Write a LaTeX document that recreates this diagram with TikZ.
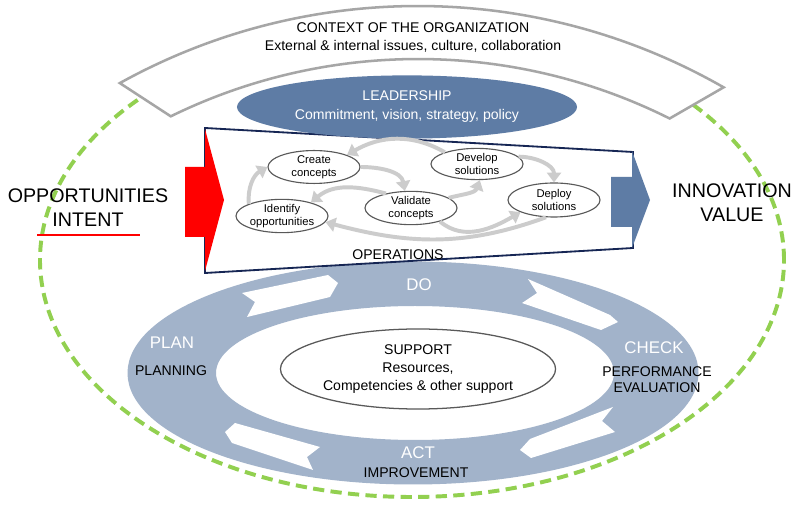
\documentclass[tikz,border=0pt]{standalone}
\usepackage{fontspec}
\setmainfont{Liberation Sans}
\usetikzlibrary{arrows.meta,positioning,calc,shapes.geometric}
\definecolor{ringblue}{RGB}{162,179,202}
\definecolor{leadblue}{RGB}{94,124,165}
\definecolor{navy}{RGB}{22,38,84}
\definecolor{dashgreen}{RGB}{146,208,80}
\definecolor{bandgray}{RGB}{166,166,166}
\definecolor{flowgray}{RGB}{204,204,204}
\definecolor{edgegray}{RGB}{89,89,89}

\begin{document}
\begin{tikzpicture}[x=0.025cm, y=0.025cm,
    every node/.style={align=center, font=\fontsize{10}{12.8}\selectfont},
    procnode/.style={ellipse, draw=edgegray, fill=white, line width=0.8pt, minimum width=2.3cm, minimum height=0.78cm, inner sep=0pt, font=\fontsize{8}{9.3}\selectfont},
    flow/.style={flowgray, line width=2.8pt, -{Triangle[length=7pt,width=10pt]}},
    pdcalabel/.style={text=white, font=\fontsize{12}{14}\selectfont},
    bigtext/.style={font=\fontsize{14}{17}\selectfont}]
      \useasboundingbox (0,0) rectangle (800,505);
      \fill[white] (0,0) rectangle (800,505);
      \draw[dashgreen, line width=2.8pt, dash pattern=on 8pt off 4.5pt] (412,245) ellipse[x radius=372, y radius=237];
      \coordinate (ctx) at (418,-116);
      \draw[bandgray, line width=1.8pt, fill=white] ($(ctx)+(119:615)$) arc[start angle=119, end angle=60.2, radius=615] -- ($(ctx)+(63.4:562)$) arc[start angle=63.4, end angle=116.1, radius=562] -- cycle;
      \node (context) at (413,468) {CONTEXT OF THE ORGANIZATION\\External \& internal issues, culture, collaboration};
      \fill[ringblue, even odd rule] (413,132) ellipse[x radius=285.5, y radius=111.5] (415,132) ellipse[x radius=199, y radius=67];
      \fill[white] (242,212) -- (328,230) -- (338,222) -- (330,208) -- (247,188) -- (255,203) -- cycle;
      \fill[white] (528,226) -- (610,190) -- (618,183) -- (601,175) -- (522,202) -- (537,212) -- cycle;
      \fill[white] (613,98) -- (602,84) -- (615,73) -- (531,47) -- (520,55) -- (530,66) -- cycle;
      \fill[white] (235,82) -- (320,58) -- (307,48) -- (313,35) -- (232,62) -- (225,73) -- cycle;
      \node[ellipse, draw=edgegray, line width=0.9pt, minimum width=6.875cm, minimum height=2cm, inner sep=0pt] (support) at (418,136) {SUPPORT\\Resources,\\Competencies \& other support};
      \node[pdcalabel] (plan) at (172,162) {PLAN};
      \node (planning) at (171,134) {PLANNING};
      \node[pdcalabel] (do) at (419,220) {DO};
      \node[pdcalabel] (check) at (654,157) {CHECK};
      \node[font=\fontsize{10}{11.6}\selectfont] (perf) at (657,125) {PERFORMANCE\\EVALUATION};
      \node[pdcalabel] (act) at (418,52) {ACT};
      \node (improve) at (416,32) {IMPROVEMENT};
      \draw[navy, line width=1.3pt, fill=white] (205,377) -- (633,353) -- (633,257) -- (205,232) -- cycle;
      \node[ellipse, fill=leadblue, text=white, minimum width=8.5cm, minimum height=1.58cm, inner sep=0pt, font=\fontsize{10}{13.5}\selectfont] (lead) at (407,398) {LEADERSHIP\\Commitment, vision, strategy, policy};
      \fill[red] (185,338) -- (205,338) -- (205,376) -- (224,305) -- (205,234) -- (205,268) -- (185,268) -- cycle;
      \fill[leadblue] (611,328) -- (632,328) -- (632,354) -- (650,305) -- (632,257) -- (632,278) -- (611,278) -- cycle;
      \node[procnode] (create) at (314,338) {Create\\concepts};
      \node[procnode] (develop) at (477,341) {Develop\\solutions};
      \node[procnode] (ident) at (282,289) {Identify\\opportunities};
      \node[procnode] (valid) at (411,297) {Validate\\concepts};
      \node[procnode, minimum height=0.85cm] (deploy) at (554,305) {Deploy\\solutions};
      \draw[flow] (ident.160) to[out=95, in=210] (create.west);
      \draw[flow] (create.east) to[out=0, in=100] (valid.110);
      \draw[flow] (valid.150) to[out=165, in=40] (ident.25);
      \draw[flow] (valid.15) to[out=15, in=250] (develop.280);
      \draw[flow] (develop.160) to[out=150, in=30] (create.20);
      \draw[flow] (develop.10) to[out=0, in=90] (deploy.north);
      \draw[flow] (valid.-25) to[out=-40, in=210] (deploy.200);
      \draw[flow] (deploy.245) to[out=200, in=-15] (ident.-8);
      \node (operations) at (398,250) {OPERATIONS};
      \node[bigtext] (opp) at (88,297) {OPPORTUNITIES\\INTENT};
      \draw[red, line width=1.5pt] (37,270) -- (140,270);
      \node[bigtext] (innov) at (732,302) {INNOVATION\\VALUE};
    \end{tikzpicture}
\end{document}
